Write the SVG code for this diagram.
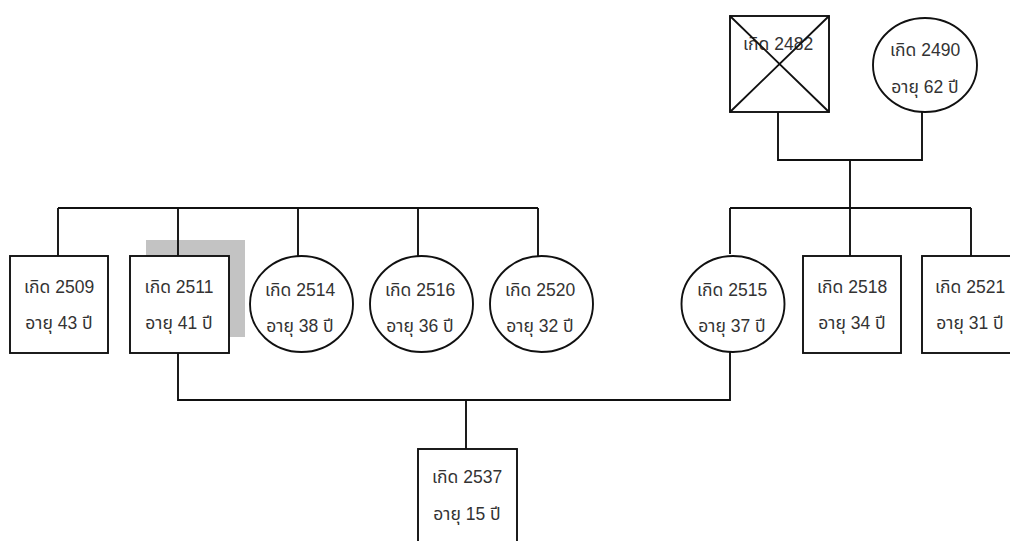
<svg xmlns="http://www.w3.org/2000/svg" width="1010" height="541" viewBox="0 0 1010 541">
<style>
.n{fill:#fff;stroke:#111;stroke-width:1.9}
.c{fill:none;stroke:#111;stroke-width:1.9}
.t{font-family:"Liberation Sans","Noto Sans Thai","Noto Sans",sans-serif;font-size:17.5px;fill:#333;text-anchor:middle}
</style>
<rect width="1010" height="541" fill="#fff"/>
<g id="connectors">
<polyline class="c" points="778,112 778,160 922,160 922,112"/>
<line class="c" x1="850" y1="160" x2="850" y2="256"/>
<line class="c" x1="730" y1="208" x2="971" y2="208"/>
<line class="c" x1="730" y1="208" x2="730" y2="254"/>
<line class="c" x1="971" y1="208" x2="971" y2="256"/>
<line class="c" x1="58" y1="208" x2="538" y2="208"/>
<line class="c" x1="58" y1="208" x2="58" y2="256"/>
<line class="c" x1="298" y1="208" x2="298" y2="256"/>
<line class="c" x1="418" y1="208" x2="418" y2="256"/>
<line class="c" x1="538" y1="208" x2="538" y2="256"/>
<polyline class="c" points="178,353 178,400 730,400 730,352"/>
<line class="c" x1="466" y1="400" x2="466" y2="449"/>
</g>
<rect id="highlight" x="146" y="240" width="99" height="97" fill="#c3c3c3"/>
<line class="c" x1="178" y1="208" x2="178" y2="256"/>
<g id="n2482">
<rect class="n" x="730" y="16" width="99" height="96"/>
<text class="t" x="778" y="50">เกิด 2482</text>
<path class="c" d="M730,16 L829,112 M829,16 L730,112"/>
</g>
<g id="n2490">
<ellipse class="n" cx="925" cy="65" rx="52" ry="47"/>
<text class="t" x="925" y="56">เกิด 2490</text>
<text class="t" x="925" y="93">อายุ 62 ปี</text>
</g>
<g id="n2509">
<rect class="n" x="10" y="256" width="98" height="97"/>
<text class="t" x="59" y="293">เกิด 2509</text>
<text class="t" x="59" y="329">อายุ 43 ปี</text>
</g>
<g id="n2511">
<rect class="n" x="130" y="256" width="99" height="97"/>
<text class="t" x="179" y="293">เกิด 2511</text>
<text class="t" x="179" y="329">อายุ 41 ปี</text>
</g>
<g id="n2514">
<ellipse class="n" cx="301.5" cy="304" rx="51.5" ry="48"/>
<text class="t" x="300" y="296">เกิด 2514</text>
<text class="t" x="300" y="332">อายุ 38 ปี</text>
</g>
<g id="n2516">
<ellipse class="n" cx="421.5" cy="304" rx="51.5" ry="48"/>
<text class="t" x="420" y="296">เกิด 2516</text>
<text class="t" x="420" y="332">อายุ 36 ปี</text>
</g>
<g id="n2520">
<ellipse class="n" cx="541.5" cy="304" rx="51.5" ry="48"/>
<text class="t" x="540" y="296">เกิด 2520</text>
<text class="t" x="540" y="332">อายุ 32 ปี</text>
</g>
<g id="n2515">
<ellipse class="n" cx="733" cy="304" rx="51.5" ry="48"/>
<text class="t" x="732" y="296">เกิด 2515</text>
<text class="t" x="732" y="332">อายุ 37 ปี</text>
</g>
<g id="n2518">
<rect class="n" x="803" y="256" width="98" height="97"/>
<text class="t" x="852" y="293">เกิด 2518</text>
<text class="t" x="852" y="329">อายุ 34 ปี</text>
</g>
<g id="n2521">
<rect class="n" x="922" y="256" width="98" height="97"/>
<text class="t" x="970" y="293">เกิด 2521</text>
<text class="t" x="970" y="329">อายุ 31 ปี</text>
</g>
<g id="n2537">
<rect class="n" x="418" y="449" width="99" height="110"/>
<text class="t" x="467" y="483">เกิด 2537</text>
<text class="t" x="467" y="520">อายุ 15 ปี</text>
</g>
</svg>
